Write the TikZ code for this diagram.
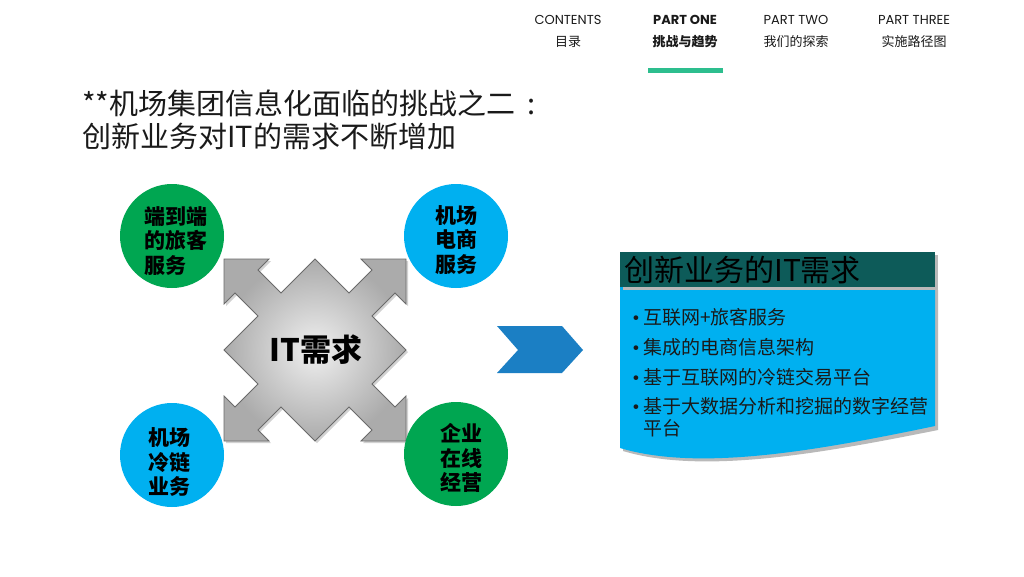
\documentclass[tikz,border=0pt]{standalone}
\usepackage{fontspec}
\setmainfont{Poppins}
\newfontfamily\cjk{Noto Sans CJK SC}
\definecolor{cgreen}{HTML}{00A651}
\definecolor{cblue}{HTML}{00B0F0}
\definecolor{navline}{HTML}{2DBE8E}
\definecolor{chev}{HTML}{1B7FC4}
\definecolor{hdteal}{HTML}{0D5B59}
\definecolor{txt}{HTML}{1A1A1A}
\definecolor{crossedge}{HTML}{6A6A6A}
\newcommand{\bul}{\makebox[11pt][l]{\rmfamily\fontsize{19}{19}\selectfont •}}
\begin{document}
\begin{tikzpicture}[x=1pt,y=-1pt,
  navtxt/.style={font=\fontsize{13}{13}\selectfont, text=txt, inner sep=0},
  navcn/.style={font=\cjk\fontsize{13}{13}\selectfont, text=txt, inner sep=0},
  bubble/.style={circle, minimum size=104pt, inner sep=0},
  bubtxt/.style={align=left, inner sep=0, font=\cjk\bfseries\fontsize{21}{24.5}\selectfont, text=black},
  titletxt/.style={anchor=west, inner sep=0, font=\cjk\fontsize{29}{29}\selectfont, text=txt},
  bullet/.style={anchor=west, inner sep=0, font=\cjk\fontsize{19}{19}\selectfont, text=txt}
]
\useasboundingbox (0,0) rectangle (1024,576);
\fill[white] (0,0) rectangle (1024,576);

% navigation
\node[navtxt] (n1) at (568,20) {CONTENTS};
\node[navcn] (n1c) at (568,42) {目录};
\node[navtxt, font=\bfseries\fontsize{13}{13}\selectfont] (n2) at (685,20) {PART ONE};
\node[navcn, font=\cjk\bfseries\fontsize{13}{13}\selectfont] (n2c) at (685,42) {挑战与趋势};
\node[navtxt] (n3) at (796,20) {PART TWO};
\node[navcn] (n3c) at (796,42) {我们的探索};
\node[navtxt] (n4) at (914,20) {PART THREE};
\node[navcn] (n4c) at (914,42) {实施路径图};
\fill[navline] (648,68) rectangle (723,73);

% title
\node[titletxt] (t1) at (82,103) {**机场集团信息化面临的挑战之二\hspace{12pt}:};
\node[titletxt] (t2) at (82,136) {创新业务对IT的需求不断增加};

% central cross
\begin{scope}[shift={(315,350)}]
\fill[gray!35] (-89,2) -- (-55,-32) -- (-78,-55) -- (-89,-44) -- (-89,-89) -- (-44,-89) -- (-55,-78) -- (-32,-55) -- (2,-89) -- (36,-55) -- (59,-78) -- (48,-89) -- (93,-89) -- (93,-44) -- (82,-55) -- (59,-32) -- (93,2) -- (59,36) -- (82,59) -- (93,48) -- (93,93) -- (48,93) -- (59,82) -- (36,59) -- (2,93) -- (-32,59) -- (-55,82) -- (-44,93) -- (-89,93) -- (-89,48) -- (-78,59) -- (-55,36) -- cycle;
\shadedraw[draw=crossedge, line width=0.8pt, inner color=gray!12, outer color=gray!66]
 (-91,0) -- (-57,-34) -- (-80,-57) -- (-91,-46) -- (-91,-91) -- (-46,-91) -- (-57,-80) -- (-34,-57) -- (0,-91)
 -- (34,-57) -- (57,-80) -- (46,-91) -- (91,-91) -- (91,-46) -- (80,-57) -- (57,-34) -- (91,0)
 -- (57,34) -- (80,57) -- (91,46) -- (91,91) -- (46,91) -- (57,80) -- (34,57) -- (0,91)
 -- (-34,57) -- (-57,80) -- (-46,91) -- (-91,91) -- (-91,46) -- (-80,57) -- (-57,34) -- cycle;
\end{scope}
\node[inner sep=0, font=\cjk\bfseries\fontsize{31}{31}\selectfont, text=black] (it) at (316,350) {IT需求};

% bubbles
\node[bubble, fill=cgreen] (b1) at (172,236) {};
\node[bubble, fill=cblue] (b2) at (456,236) {};
\node[bubble, fill=cblue] (b3) at (172,455) {};
\node[bubble, fill=cgreen] (b4) at (456,454) {};
\node[bubtxt] (b1t) at (176,241) {端到端\\的旅客\\服务};
\node[bubtxt] (b2t) at (456,240) {机场\\电商\\服务};
\node[bubtxt] (b3t) at (169,462) {机场\\冷链\\业务};
\node[bubtxt] (b4t) at (461,458) {企业\\在线\\经营};

% chevron
\fill[chev] (497,326) -- (562,326) -- (583,350) -- (562,373) -- (497,373) -- (518,350) -- cycle;

% right box
\fill[gray!55] (623,290) -- (938,290) -- (938,430) .. controls (823,453) and (703,475) .. (623,451) -- cycle;
\fill[cblue] (620,287) -- (935,287) -- (935,426) .. controls (820,450) and (700,472) .. (620,448) -- cycle;
\fill[gray!55] (623,255) rectangle (938,290);
\node[fill=hdteal, anchor=north west, minimum height=35pt, text width=307pt, inner xsep=4pt, inner ysep=0, align=left, font=\cjk\fontsize{30}{30}\selectfont, text=black] (hd) at (620,252) {创新业务的IT需求};

\node[bullet] (l1) at (632,317) {\bul 互联网+旅客服务};
\node[bullet] (l2) at (632,347) {\bul 集成的电商信息架构};
\node[bullet] (l3) at (632,377) {\bul 基于互联网的冷链交易平台};
\node[bullet] (l4) at (632,406) {\bul 基于大数据分析和挖掘的数字经营};
\node[bullet] (l5) at (643,428) {平台};
\end{tikzpicture}
\end{document}
